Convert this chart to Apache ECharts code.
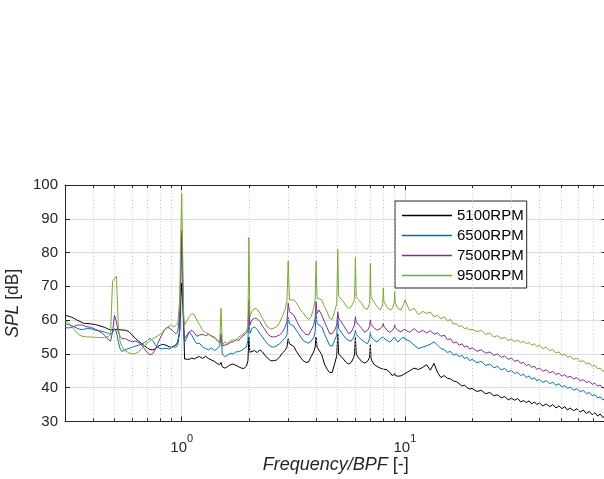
<!DOCTYPE html>
<html><head><meta charset="utf-8">
<script src="https://cdn.jsdelivr.net/npm/echarts@6/dist/echarts.min.js"></script>
<style>html,body{margin:0;padding:0;background:#fff}#c{width:604px;height:479px}</style>
</head><body><div id="c"></div>
<script>
const seriesNames = ['5100RPM', '6500RPM', '7500RPM', '9500RPM'];

const freq = [
  0.30,0.31,0.32,0.33,0.34,0.35,0.36,0.37,0.38,0.39,
  0.40,0.41,0.42,0.43,0.44,0.45,0.46,0.47,0.48,0.49,
  0.50,0.51,0.52,0.53,0.54,0.55,0.56,
  0.58,0.60,0.62,0.64,0.66,0.68,0.70,0.72,0.74,0.76,
  0.78,0.80,0.82,0.84,0.86,0.88,0.90,0.92,0.94,0.96,
  0.98,0.99,1.00,1.01,1.02,1.03,
  1.05,1.08,1.11,1.14,1.17,1.20,1.24,1.28,1.32,1.36,
  1.40,1.44,1.48,1.50,1.52,1.56,1.60,1.65,1.70,1.75,
  1.80,1.85,1.90,1.95,1.98,2.00,2.02,2.06,2.12,2.18,
  2.24,2.30,2.36,2.42,2.50,2.58,2.66,2.74,2.82,2.90,
  2.96,3.00,3.04,3.10,3.18,3.26,3.34,3.42,3.50,3.60,
  3.70,3.80,3.90,3.96,4.00,4.04,4.12,4.24,4.36,4.48,
  4.60,4.72,4.84,4.95,5.00,5.05,5.15,5.30,5.45,5.60,
  5.75,5.90,5.95,6.00,6.05,6.20,6.40,6.60,6.80,6.95,
  7.00,7.05,7.25,7.50,7.75,7.95,8.00,8.05,8.30,8.55,
  8.80,8.95,9.00,9.05,9.30,9.60,9.90,
  10,10.5,11,11.5,12,12.5,13,13.5,14,14.5,
  15,15.5,16,16.5,17,17.5,18,18.5,19,19.5,
  20,21,22,23,24,25,26,27,28,29,
  30,31,32,33,34,35,36,37,38,39,
  40,41.5,43,44.5,46,47.5,49,50.5,52,53.5,
  55,57,59,61,63,65,67,69,71,73,
  75,77,79,80
];

const spl5100 = [
  61.4,61.2,60.9,60.5,60.0,59.6,59.2,59.0,59.0,58.9,
  58.8,58.7,58.5,58.3,58.1,57.9,57.6,57.3,57.1,57.0,
  57.2,57.3,57.2,57.1,57.1,57.0,57.0,
  56.6,55.6,54.6,53.8,53.1,52.4,51.8,51.3,51.2,51.5,
  52.1,52.6,52.8,52.7,52.4,52.1,52.0,52.3,52.6,53.5,
  57.0,66.0,71.0,70.5,60.0,48.5,
  48.3,48.4,48.8,48.5,49.0,49.2,48.7,49.3,48.6,48.2,
  47.8,47.2,46.8,47.5,46.2,45.8,46.2,46.8,47.0,46.6,
  46.2,45.8,45.7,46.4,48.0,55.0,50.5,50.2,51.0,50.4,
  51.2,50.6,49.6,48.8,48.0,48.0,48.2,49.0,50.2,51.0,
  52.0,54.5,53.0,53.2,52.2,50.8,49.8,48.8,48.0,47.5,
  47.6,49.2,50.6,52.0,55.0,52.0,51.8,49.8,47.0,45.5,
  44.5,44.5,47.0,49.5,56.0,50.0,49.5,48.5,47.5,47.0,
  47.5,49.0,50.0,55.0,50.0,48.8,47.8,47.3,47.8,49.0,
  52.7,48.5,47.0,46.3,45.8,45.6,46.0,45.4,45.3,44.6,
  43.5,43.8,44.2,43.6,43.4,43.5,44.0,
  44.2,45.0,45.8,45.4,46.0,46.8,45.2,47.2,44.5,43.0,
  43.6,42.8,42.6,42.0,41.8,41.2,40.5,40.8,40.0,39.6,
  39.8,38.9,39.2,38.2,38.6,37.6,37.9,37.0,37.4,36.4,
  36.9,36.3,36.8,35.8,36.2,35.6,36.1,35.2,35.8,35.0,
  35.5,34.6,35.2,34.4,35.0,34.0,34.6,33.8,34.4,33.4,
  34.0,33.2,33.8,32.8,33.4,32.4,33.0,32.0,32.6,31.6,
  32.2,31.2,31.6,31.0
];

const spl6500 = [
  58.9,58.7,58.4,58.0,57.6,57.3,57.2,57.4,57.6,57.5,
  57.2,57.0,56.9,56.8,56.7,56.5,56.3,56.0,55.8,56.4,
  57.5,56.5,53.5,51.5,50.7,51.0,51.3,
  51.6,52.0,52.3,52.6,52.9,53.3,53.9,54.6,54.0,52.8,
  52.0,51.6,51.5,51.7,51.6,51.5,51.8,52.1,52.0,52.5,
  57.0,72.0,84.3,70.0,56.0,53.5,
  54.5,56.5,55.5,54.0,53.0,53.2,52.0,51.6,51.2,51.8,
  51.0,51.5,52.4,56.0,50.0,49.2,49.6,50.2,50.0,50.6,
  50.7,51.0,51.6,52.0,54.0,62.0,56.0,57.5,58.0,57.2,
  56.0,55.0,54.0,53.0,52.2,52.0,52.4,53.0,53.8,54.6,
  55.6,60.8,59.0,59.3,58.2,57.0,56.0,55.0,54.0,53.5,
  53.2,53.8,54.8,56.5,62.0,59.0,59.5,58.0,56.0,54.2,
  52.5,52.3,54.0,55.5,61.0,57.5,57.0,55.5,54.5,54.0,
  53.8,55.0,55.6,57.0,55.8,55.0,54.2,53.5,53.0,54.5,
  56.5,55.0,54.2,53.5,54.5,55.0,55.3,54.8,54.0,53.5,
  54.2,55.0,55.3,54.5,53.5,54.5,55.0,
  54.4,53.8,52.6,51.6,52.0,52.4,52.9,53.6,52.6,51.6,
  51.2,50.4,50.8,49.6,50.0,49.2,49.6,48.6,49.0,48.0,
  48.4,47.4,47.8,46.6,47.0,45.9,46.3,45.3,45.7,44.7,
  45.1,44.2,44.6,43.6,44.0,43.0,43.5,42.5,43.0,42.0,
  42.5,41.6,42.1,41.2,41.6,40.7,41.2,40.2,40.7,39.8,
  40.2,39.3,39.7,38.8,39.2,38.2,38.6,37.6,38.0,37.0,
  37.3,36.4,36.8,36.2
];

const spl7500 = [
  57.8,57.7,57.8,58.2,58.5,58.6,58.5,58.2,58.0,57.9,
  57.6,57.3,57.0,56.6,56.2,55.6,55.0,54.2,53.8,56.5,
  61.5,59.5,56.5,55.2,54.5,54.3,54.5,
  54.0,53.6,53.8,53.4,52.6,51.6,50.4,49.8,50.0,51.2,
  53.0,54.6,56.0,57.2,57.8,57.7,57.2,56.6,56.0,56.5,
  62.0,75.0,86.5,72.0,58.0,54.5,
  55.0,56.5,57.0,56.2,55.2,55.6,55.8,55.4,55.8,55.2,
  54.8,54.0,53.2,55.5,52.4,52.6,52.8,53.4,53.6,54.2,
  54.0,55.0,55.5,56.2,57.0,66.0,58.5,60.0,60.6,60.4,
  59.6,58.2,57.2,56.0,55.2,55.0,55.2,55.6,56.4,57.8,
  59.5,65.0,62.5,62.8,61.5,60.0,58.6,57.4,56.6,55.8,
  55.6,57.0,58.5,60.5,65.5,62.0,63.0,61.5,59.5,57.8,
  56.0,56.0,57.0,58.5,62.5,60.5,59.8,58.5,57.2,56.0,
  56.5,58.0,58.8,61.0,59.5,58.6,57.6,56.4,57.0,58.2,
  60.0,58.8,57.8,57.0,57.5,58.2,59.0,58.2,57.0,56.4,
  57.0,57.8,58.6,57.8,57.0,56.5,57.3,
  57.6,56.4,57.5,56.3,57.0,56.2,56.9,55.8,56.3,55.2,
  55.6,54.2,54.5,53.2,53.6,52.6,53.0,52.0,52.4,51.4,
  51.8,50.8,51.2,50.2,50.6,49.6,50.0,49.0,49.4,48.4,
  48.8,47.8,48.2,47.2,47.5,46.5,46.9,46.0,46.4,45.4,
  45.8,44.9,45.3,44.4,44.8,43.9,44.3,43.4,43.9,43.0,
  43.4,42.6,43.0,42.0,42.4,41.5,41.9,41.0,41.3,40.5,
  40.8,39.9,40.2,39.6
];

const spl9500 = [
  59.8,59.3,58.3,57.2,56.2,55.5,55.2,55.1,55.0,55.0,
  55.0,54.9,54.9,54.8,54.8,54.9,55.0,55.2,55.6,71.5,
  72.4,73.0,58.0,53.5,52.2,51.3,50.8,
  50.3,50.0,50.1,50.6,51.4,52.3,53.2,53.9,54.5,54.9,
  55.3,55.8,56.4,57.3,57.8,58.3,58.6,58.0,58.4,59.0,
  66.0,85.0,97.5,80.0,62.0,58.5,
  58.5,61.0,62.0,61.5,60.0,58.8,57.0,56.3,55.9,55.4,
  55.0,54.3,53.4,63.5,52.5,53.6,53.0,53.8,54.2,54.0,
  55.0,55.5,56.0,56.8,58.0,84.5,61.0,62.5,63.5,63.2,
  62.0,60.5,59.2,58.0,57.4,57.6,58.0,59.2,61.0,63.0,
  65.5,77.5,66.0,66.5,66.0,65.2,64.0,62.8,62.2,61.0,
  60.2,61.0,63.5,66.0,77.5,66.5,67.0,66.0,64.0,62.5,
  60.5,60.2,62.5,65.0,81.0,67.0,66.5,65.5,64.2,63.5,
  64.0,65.5,66.5,78.5,67.0,66.0,65.0,63.5,63.2,65.0,
  76.8,67.0,65.5,64.0,63.0,64.5,69.5,65.5,64.0,63.0,
  63.5,65.0,68.5,65.0,63.5,63.0,65.0,
  66.0,62.8,63.5,61.6,62.6,62.0,62.4,61.0,61.4,60.4,
  61.0,59.8,60.2,58.8,59.0,58.0,58.4,57.4,57.8,57.0,
  57.3,56.6,57.0,55.8,56.2,55.0,55.4,54.5,54.9,54.0,
  54.4,53.6,54.1,53.3,53.8,53.0,53.4,52.6,53.0,52.2,
  52.6,51.6,52.0,51.0,51.3,50.3,50.6,49.6,50.0,49.0,
  49.3,48.4,48.7,47.7,48.0,47.0,47.3,46.3,46.6,45.6,
  45.8,44.9,45.2,44.6
];

const minorGridX = [0.4,0.5,0.6,0.7,0.8,0.9,2,3,4,5,6,7,8,9,20,30,40,50,60,70];
const yRange = [30, 100];
const yStep = 10;

const AX = '#262626';
const colors = ['#000000', '#0072BD', '#7E2F8E', '#77AC30'];
const values = [spl5100, spl6500, spl7500, spl9500];
const FONT = '"Liberation Sans", Arial, Helvetica, sans-serif';

function fmtX(v) {
  const e = Math.log10(v), r = Math.round(e);
  return Math.abs(e - r) < 1e-6 ? '{b|10}{s|' + r + '}' : '';
}

const chart = echarts.init(document.getElementById('c'), null, { renderer: 'canvas' });

const tickLenMinor = 0.9;
const minorTickPairs = [];
minorGridX.forEach(v => {
  minorTickPairs.push([{ coord: [v, yRange[0]] }, { coord: [v, yRange[0] + tickLenMinor] }]);
  minorTickPairs.push([{ coord: [v, yRange[1] - tickLenMinor] }, { coord: [v, yRange[1]] }]);
});

const dataSeries = values.map((arr, k) => ({
  name: seriesNames[k],
  type: 'line',
  data: freq.map((f, i) => [f, arr[i]]),
  showSymbol: false,
  symbol: 'none',
  clip: true,
  z: 3 + k,
  lineStyle: { width: 1, color: colors[k] },
  itemStyle: { color: colors[k] },
  emphasis: { disabled: true },
  animation: false
}));

const option = {
  animation: false,
  backgroundColor: '#fff',
  textStyle: { fontFamily: FONT },
  grid: { left: 65, top: 185, width: 541.5, height: 236.5, containLabel: false, outerBoundsMode: 'none' },
  legend: {
    data: seriesNames,
    orient: 'vertical',
    left: 395, top: 201,
    padding: [7, 3, 5, 7],
    itemGap: 5,
    itemWidth: 50, itemHeight: 1.5,
    icon: 'rect',
    backgroundColor: '#fff',
    borderColor: AX, borderWidth: 1, borderRadius: 0,
    textStyle: { fontSize: 15, color: '#000', fontFamily: FONT },
    selectedMode: false
  },
  xAxis: [{
    type: 'log', logBase: 10, min: 0.3, max: 80,
    axisLine: { show: true, onZero: false, lineStyle: { color: AX, width: 1 } },
    axisTick: { show: true, inside: true, length: 5, lineStyle: { color: AX } },
    axisLabel: {
      formatter: fmtX, margin: 12, color: AX, fontFamily: FONT,
      rich: {
        b: { fontSize: 15, color: AX, fontFamily: FONT, lineHeight: 22, verticalAlign: 'bottom' },
        s: { fontSize: 11, color: AX, fontFamily: FONT, lineHeight: 22, verticalAlign: 'top' }
      }
    },
    splitLine: { show: true, lineStyle: { color: '#dedede', width: 1 } },
    name: '{i|Frequency/BPF} [-]',
    nameLocation: 'middle', nameGap: 30,
    nameTextStyle: {
      fontSize: 18, color: AX, fontFamily: FONT,
      rich: { i: { fontStyle: 'italic', fontSize: 18, color: AX, fontFamily: FONT } }
    }
  }, {
    type: 'log', logBase: 10, min: 0.3, max: 80, position: 'top',
    axisLine: { show: true, onZero: false, lineStyle: { color: AX, width: 1 } },
    axisTick: { show: true, inside: true, length: 5, lineStyle: { color: AX } },
    axisLabel: { show: false },
    splitLine: { show: false }
  }],
  yAxis: [{
    type: 'value', min: yRange[0], max: yRange[1], interval: yStep,
    axisLine: { show: true, onZero: false, lineStyle: { color: AX, width: 1 } },
    axisTick: { show: true, inside: true, length: 5, lineStyle: { color: AX } },
    axisLabel: { fontSize: 15, color: AX, margin: 7, fontFamily: FONT },
    splitLine: { show: true, lineStyle: { color: '#dedede', width: 1 } },
    name: '{i|SPL} [dB]',
    nameLocation: 'middle', nameGap: 36, nameRotate: 90,
    nameTextStyle: {
      fontSize: 17.5, color: AX, fontFamily: FONT,
      rich: { i: { fontStyle: 'italic', fontSize: 17.5, color: AX, fontFamily: FONT } }
    }
  }, {
    type: 'value', min: yRange[0], max: yRange[1], interval: yStep, position: 'right',
    axisLine: { show: true, onZero: false, lineStyle: { color: AX, width: 1 } },
    axisTick: { show: true, inside: true, length: 5, lineStyle: { color: AX } },
    axisLabel: { show: false },
    splitLine: { show: false }
  }],
  series: [{
    type: 'line', data: [], silent: true, z: 1,
    markLine: {
      silent: true, symbol: 'none', animation: false,
      label: { show: false },
      lineStyle: { color: '#c4c4c4', type: [1, 2.5], width: 1 },
      emphasis: { disabled: true },
      data: minorGridX.map(v => ({ xAxis: v }))
    }
  }, {
    type: 'line', data: [], silent: true, z: 2,
    markLine: {
      silent: true, symbol: 'none', animation: false,
      label: { show: false },
      lineStyle: { color: AX, type: 'solid', width: 1 },
      emphasis: { disabled: true },
      data: minorTickPairs
    }
  }].concat(dataSeries)
};

chart.setOption(option);
</script>
</body></html>
